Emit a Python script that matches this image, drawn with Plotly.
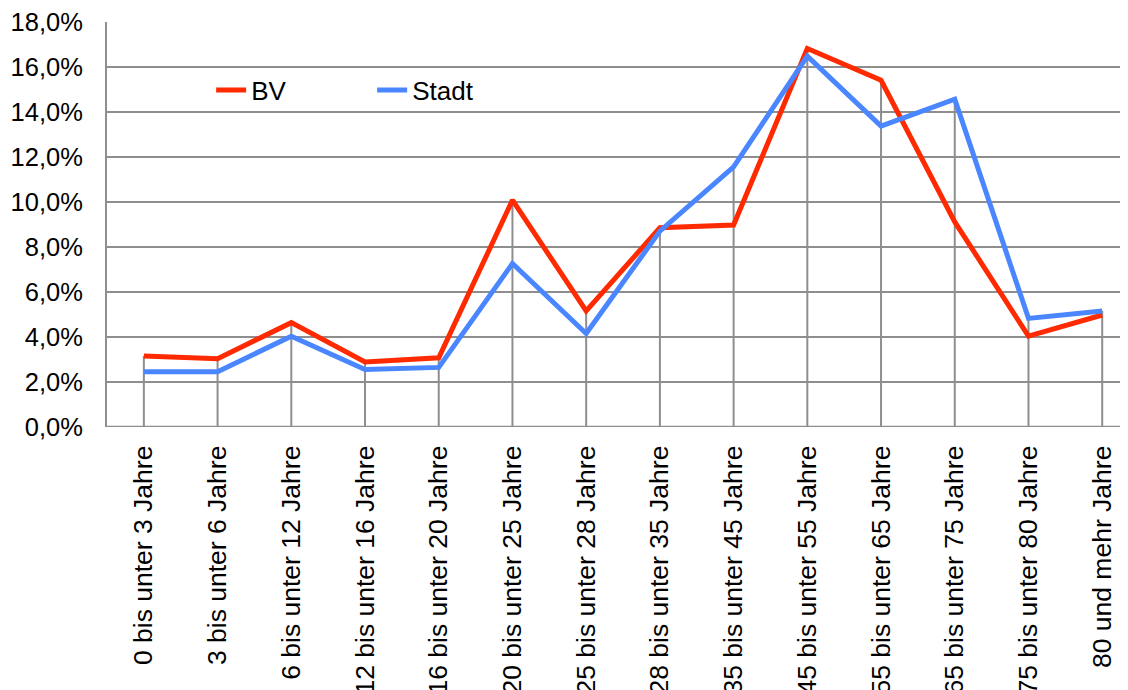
import plotly.graph_objects as go

categories = [
    "0 bis unter 3 Jahre", "3 bis unter 6 Jahre", "6 bis unter 12 Jahre",
    "12 bis unter 16 Jahre", "16 bis unter 20 Jahre", "20 bis unter 25 Jahre",
    "25 bis unter 28 Jahre", "28 bis unter 35 Jahre", "35 bis unter 45 Jahre",
    "45 bis unter 55 Jahre", "55 bis unter 65 Jahre", "65 bis unter 75 Jahre",
    "75 bis unter 80 Jahre", "80 und mehr Jahre",
]
bv = [3.16, 3.04, 4.64, 2.89, 3.08, 10.09, 5.16, 8.86, 8.98, 16.83, 15.42, 9.12, 4.04, 4.98]
stadt = [2.46, 2.46, 4.04, 2.56, 2.65, 7.27, 4.16, 8.71, 11.57, 16.49, 13.38, 14.58, 4.83, 5.16]
y_ticks = [0, 2, 4, 6, 8, 10, 12, 14, 16, 18]

bv_f = [v / 100 for v in bv]
stadt_f = [v / 100 for v in stadt]
idx = list(range(len(categories)))

grid = "#8e8e8e"
fig = go.Figure()

# drop lines from axis up to the higher series
dx, dy = [], []
for i in idx:
    dx += [i, i, None]
    dy += [0, max(bv_f[i], stadt_f[i]), None]
fig.add_trace(go.Scatter(x=dx, y=dy, mode="lines", line=dict(color=grid, width=2),
                         showlegend=False, hoverinfo="skip"))

fig.add_trace(go.Scatter(x=idx, y=bv_f, mode="lines", name="BV",
                         line=dict(color="#FF2A00", width=5)))
fig.add_trace(go.Scatter(x=idx, y=stadt_f, mode="lines", name="Stadt",
                         line=dict(color="#4A86FF", width=5)))

# the page body has an 8px margin, so the figure is sized to fit the window
fig.update_layout(
    width=1120, height=682,
    margin=dict(l=99, r=0, t=14, b=263, autoexpand=False),
    paper_bgcolor="white", plot_bgcolor="white",
    separators=",.",
    font=dict(family="Liberation Sans, Arial, sans-serif", size=26, color="black"),
    legend=dict(orientation="h", x=0.102, y=0.832, xanchor="left", yanchor="middle",
                bgcolor="rgba(0,0,0,0)", entrywidth=116, entrywidthmode="pixels",
                font=dict(size=26)),
    xaxis=dict(
        range=[-0.5, 13.35], tickmode="array", tickvals=idx, ticktext=categories,
        tickangle=-90, showgrid=False, zeroline=False, showline=False, automargin=False,
        ticks="outside", ticklen=0, ticklabelstandoff=7, tickfont=dict(size=26.5),
        ticklabeloverflow="allow",
    ),
    yaxis=dict(
        range=[0, 0.1801], tickvals=[v / 100 for v in y_ticks], tickformat=".1%",
        showgrid=True, gridcolor=grid, gridwidth=2, zeroline=False, automargin=False,
        showline=True, linecolor=grid, linewidth=2, mirror=False,
        ticks="outside", ticklen=0, ticklabelstandoff=17, tickfont=dict(size=25.5),
        ticklabeloverflow="allow",
    ),
)
fig.add_shape(type="line", xref="paper", yref="y", x0=0, x1=1, y0=0, y1=0,
              line=dict(color=grid, width=2.5))

fig.write_html("out.html")
